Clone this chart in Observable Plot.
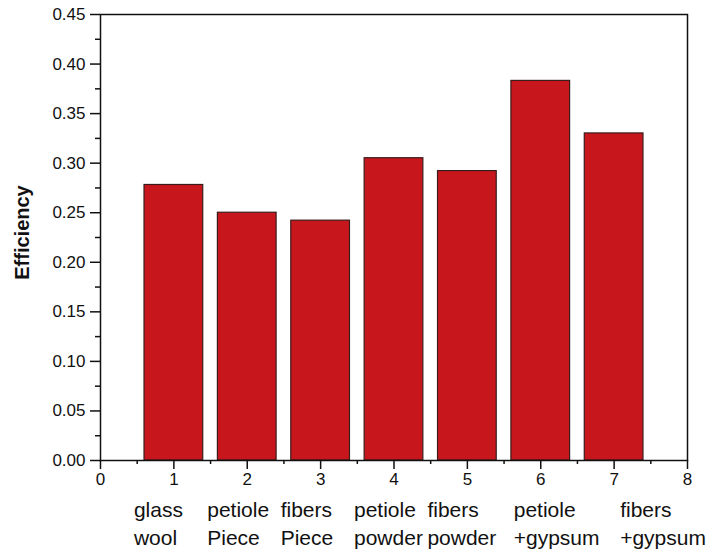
<!DOCTYPE html>
<html>
<head>
<meta charset="utf-8">
<script src="https://cdn.jsdelivr.net/npm/d3@7"></script>
<script src="https://cdn.jsdelivr.net/npm/@observablehq/plot@0.6"></script>
<style>
  html, body { margin: 0; padding: 0; background: #fff; }
  svg { font-family: "Liberation Sans", Arial, sans-serif; }
</style>
</head>
<body>
<div id="chart"></div>
<script>
const positions = [1, 2, 3, 4, 5, 6, 7];
const categories = ["glass\nwool", "petiole\nPiece", "fibers\nPiece", "petiole\npowder", "fibers\npowder", "petiole\n+gypsum", "fibers\n+gypsum"];
const efficiency = [0.278, 0.250, 0.242, 0.305, 0.292, 0.383, 0.330];
const yTicks = [0, 0.05, 0.10, 0.15, 0.20, 0.25, 0.30, 0.35, 0.40, 0.45];
const yMinorTicks = [0.025, 0.075, 0.125, 0.175, 0.225, 0.275, 0.325, 0.375, 0.425];
const xTicks = [0, 1, 2, 3, 4, 5, 6, 7, 8];
const xMinorTicks = [0.5, 1.5, 2.5, 3.5, 4.5, 5.5, 6.5, 7.5];

const data = positions.map((p, i) => ({x: p, value: efficiency[i], label: categories[i]}));
const halfWidth = 0.4;
const labelStyle = {x: "x", y: 0, text: "label", textAnchor: "start", lineAnchor: "top", dy: 37, lineHeight: 1.33, fontSize: 21, fill: "#111", clip: false};

const chart = Plot.plot({
  width: 710,
  height: 556,
  marginTop: 14,
  marginRight: 23,
  marginBottom: 96,
  marginLeft: 100,
  style: {fontFamily: "'Liberation Sans', Arial, sans-serif", background: "#fff"},
  x: {type: "linear", domain: [0, 8]},
  y: {domain: [0, 0.45]},
  marks: [
    Plot.rectY(data, {x1: d => d.x - halfWidth, x2: d => d.x + halfWidth, y1: 0, y2: "value", fill: "#c8171c", stroke: "#3a1c1c", strokeWidth: 1.2}),
    Plot.frame({stroke: "#111", strokeWidth: 1.5}),
    Plot.axisY({ticks: yTicks, tickFormat: d3.format(".2f"), tickSize: 10, tickPadding: 5, fontSize: 17, label: null, stroke: "#111", strokeWidth: 1.5, color: "#111"}),
    Plot.axisY({ticks: yMinorTicks, tickSize: 5, text: null, label: null, stroke: "#111", strokeWidth: 1.5}),
    Plot.axisX({ticks: xTicks, tickFormat: d3.format("d"), tickSize: 9, tickPadding: 3, fontSize: 17, label: null, stroke: "#111", strokeWidth: 1.5, color: "#111"}),
    Plot.axisX({ticks: xMinorTicks, tickSize: 4, text: null, label: null, stroke: "#111", strokeWidth: 1.5}),
    Plot.text(data.slice(0, 5), {...labelStyle, dx: -40}),
    Plot.text(data.slice(5, 6), {...labelStyle, dx: -27}),
    Plot.text(data.slice(6, 7), {...labelStyle, dx: 6}),
    Plot.text(["Efficiency"], {frameAnchor: "left", textAnchor: "middle", text: d => d, rotate: -90, dx: -78, dy: -5, fontSize: 20, fontWeight: "bold", fill: "#111"})
  ]
});
document.getElementById("chart").appendChild(chart);
</script>
</body>
</html>
